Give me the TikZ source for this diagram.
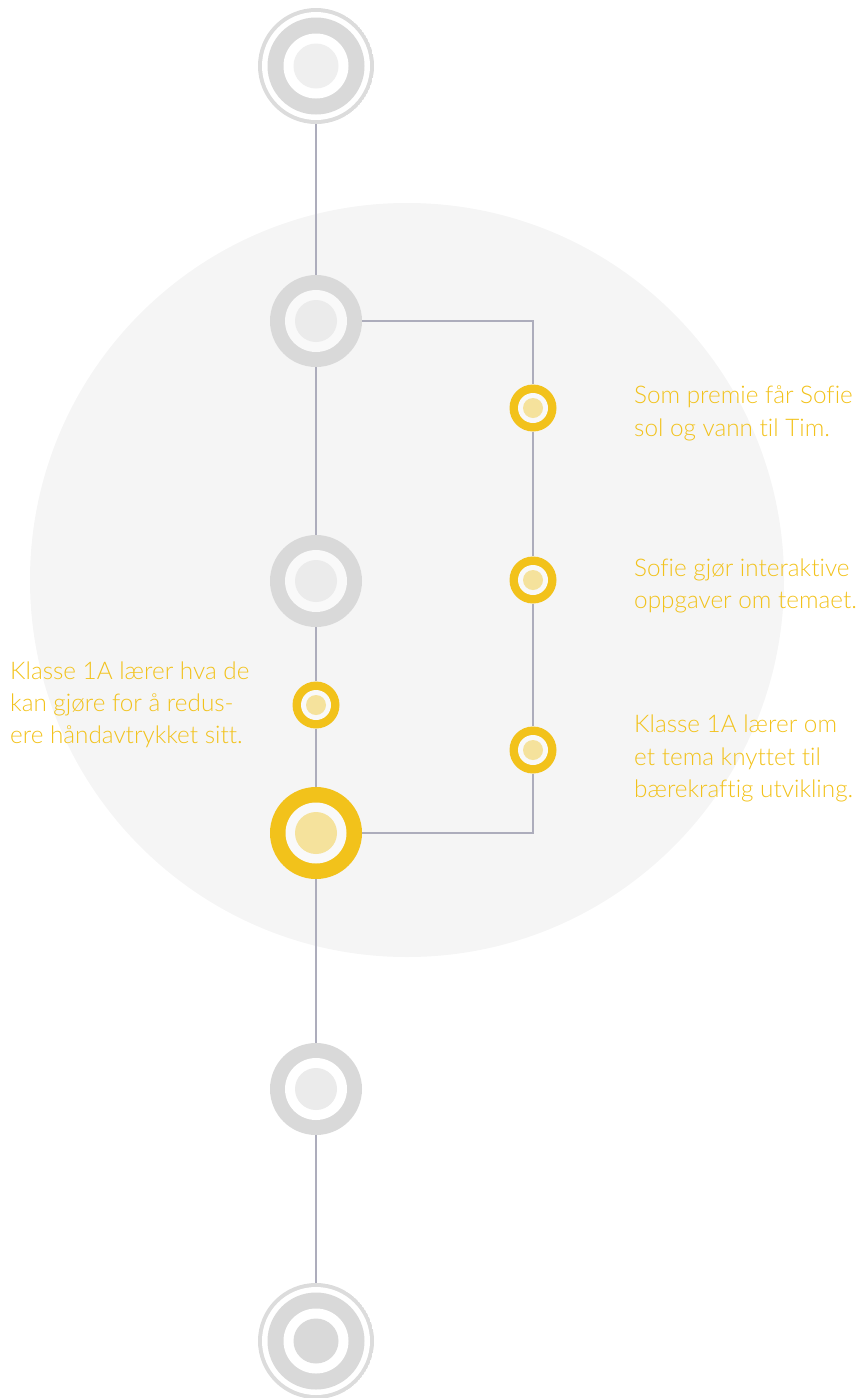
\documentclass[tikz,border=0pt]{standalone}
\usepackage{fontspec}
\newfontfamily\lightfont[Ligatures={NoCommon,NoContextual,NoRare}]{Lato Light}
\definecolor{bgcircle}{HTML}{F5F5F5}
\definecolor{linec}{HTML}{ADADBC}
\definecolor{ringgrey}{HTML}{D9D9D9}
\definecolor{outerring}{HTML}{DCDCDC}
\definecolor{innergrey}{HTML}{EBEBEB}
\definecolor{innerlight}{HTML}{EFEFEF}
\definecolor{ylw}{HTML}{F2C21B}
\definecolor{ylwlight}{HTML}{F5E29C}
\definecolor{ringin}{HTML}{F9F9F9}
\tikzset{
  conn/.style={draw=linec, line width=2.2pt},
  greynode/.style={circle, inner sep=0pt, minimum size=92pt, fill=ringgrey,
    path picture={\fill[#1] (path picture bounding box.center) circle (31pt);
      \fill[innergrey] (path picture bounding box.center) circle (21pt);}},
  greynode/.default=white,
  endnode/.style={circle, inner sep=0pt, minimum size=116pt, fill=white,
    path picture={\fill[outerring] (path picture bounding box.center) circle (58pt);
      \fill[white] (path picture bounding box.center) circle (54pt);
      \fill[ringgrey] (path picture bounding box.center) circle (48.5pt);
      \fill[white] (path picture bounding box.center) circle (32.5pt);
      \fill[#1] (path picture bounding box.center) circle (22.5pt);}},
  bigyellow/.style={circle, inner sep=0pt, minimum size=92pt, fill=ylw,
    path picture={\fill[ringin] (path picture bounding box.center) circle (30.5pt);
      \fill[ylwlight] (path picture bounding box.center) circle (21pt);}},
  smallyellow/.style={circle, inner sep=0pt, minimum size=47pt, fill=ylw,
    path picture={\fill[ringin] (path picture bounding box.center) circle (15pt);
      \fill[ylwlight] (path picture bounding box.center) circle (10pt);}},
  label/.style={anchor=base west, inner sep=0pt, text=ylw,
    font=\lightfont\fontsize{24.3pt}{33pt}\selectfont}
}
\begin{document}
\begin{tikzpicture}[x=1pt, y=-1pt]
\useasboundingbox (0,0) rectangle (862,1398);
\fill[bgcircle] (407,580) circle (377pt);
% nodes
\node[endnode=innerlight] (top) at (316,66) {};
\node[greynode=ringin] (n2) at (316,321) {};
\node[greynode=ringin] (n3) at (316,581) {};
\node[smallyellow] (y1) at (316,705) {};
\node[bigyellow] (n5) at (316,833) {};
\node[greynode] (n6) at (316,1089) {};
\node[endnode=ringgrey] (bot) at (316,1341) {};
\node[smallyellow] (r1) at (533,408) {};
\node[smallyellow] (r2) at (533,580) {};
\node[smallyellow] (r3) at (533,750) {};
% connectors
\draw[conn] (top) -- (n2);
\draw[conn] (n2) -- (n3);
\draw[conn] (n3) -- (y1);
\draw[conn] (y1) -- (n5);
\draw[conn] (n5) -- (n6);
\draw[conn] (n6) -- (bot);
\draw[conn] (n2) -- (r1 |- n2) -- (r1);
\draw[conn] (r1) -- (r2);
\draw[conn] (r2) -- (r3);
\draw[conn] (r3) -- (r3 |- n5) -- (n5);
% labels
\node[label] (a1) at (634,403) {Som premie får Sofie};
\node[label] (a2) at (634,436) {sol og vann til Tim.};
\node[label] (b1) at (634,576) {Sofie gjør interaktive};
\node[label] (b2) at (634,608) {oppgaver om temaet.};
\node[label] (c1) at (634,732) {Klasse 1A lærer om};
\node[label] (c2) at (634,765) {et tema knyttet til};
\node[label] (c3) at (634,797) {bærekraftig utvikling.};
\node[label] (d1) at (10,679) {Klasse 1A lærer hva de};
\node[label] (d2) at (10,711) {kan gjøre for å redus-};
\node[label] (d3) at (10,743) {ere håndavtrykket sitt.};
\end{tikzpicture}
\end{document}
